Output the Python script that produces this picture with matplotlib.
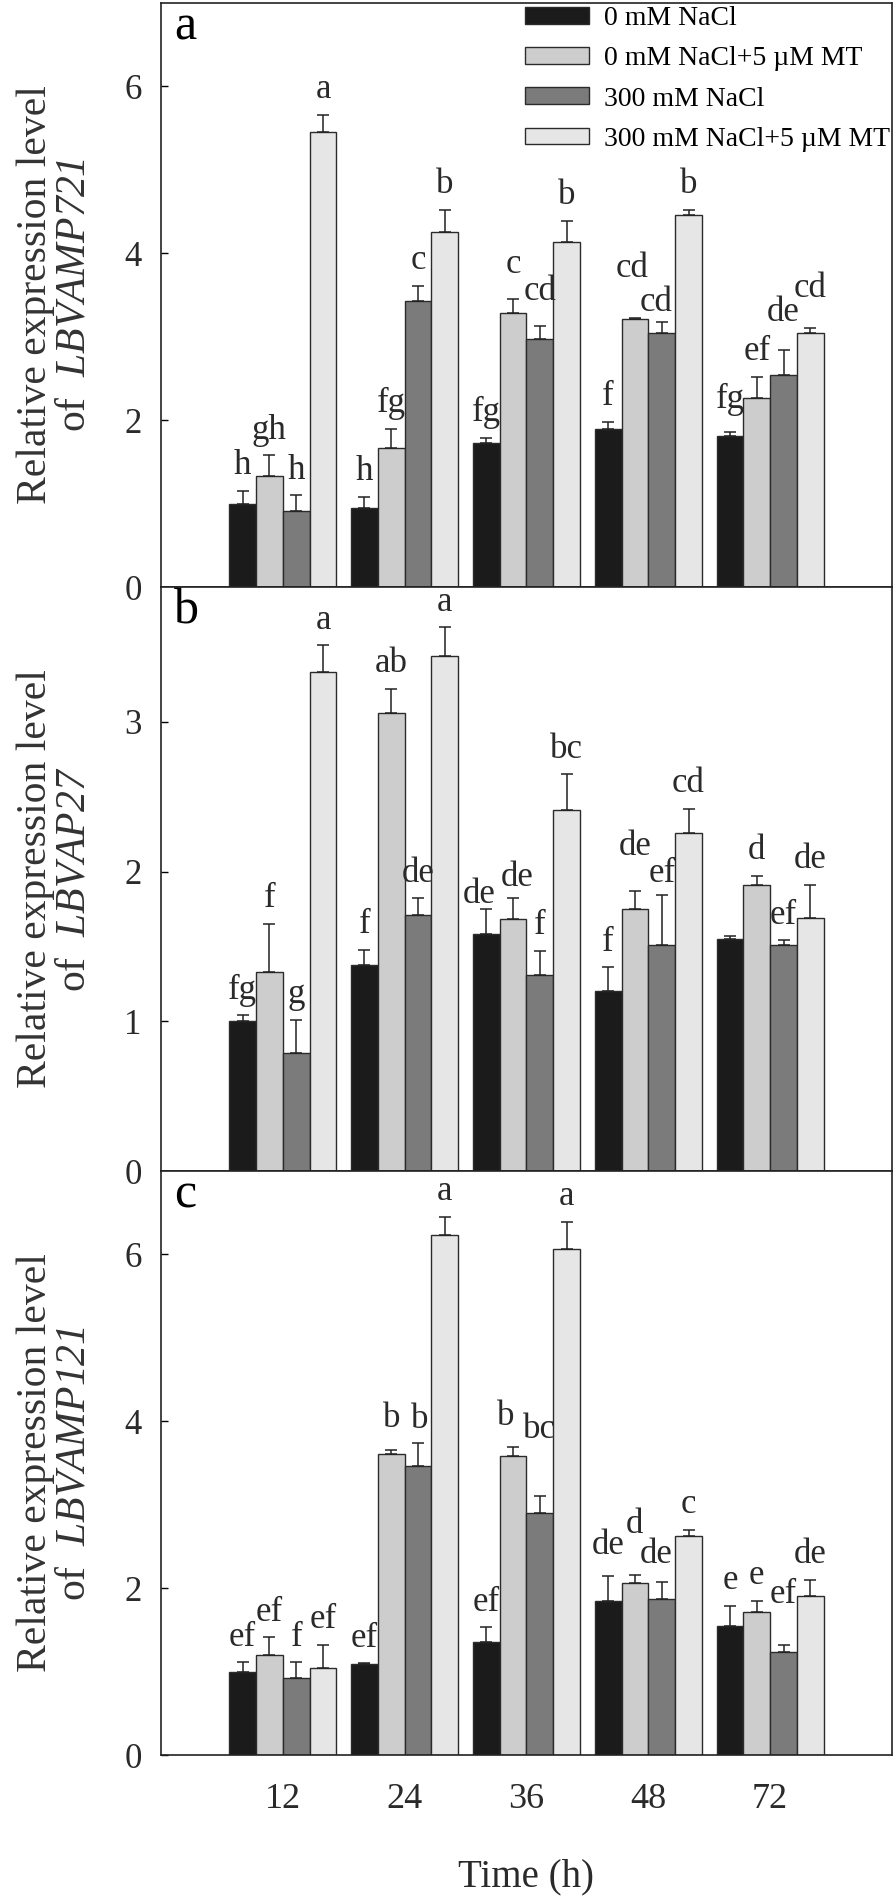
import numpy as np
import matplotlib
matplotlib.use('Agg')
import matplotlib.pyplot as plt

plt.rcParams['font.family'] = ['Liberation Serif', 'DejaVu Serif']
plt.rcParams['mathtext.fontset'] = 'custom'
# gene names are fully italic, digits included
plt.rcParams['mathtext.rm'] = 'Liberation Serif:italic'
plt.rcParams['mathtext.it'] = 'Liberation Serif:italic'

times = ['12', '24', '36', '48', '72']
treatments = ['0 mM NaCl', '0 mM NaCl+5 µM MT', '300 mM NaCl', '300 mM NaCl+5 µM MT']
colors = ['#1b1b1b', '#cdcdcd', '#7b7b7b', '#e6e6e6']

# panel a  LBVAMP721  (rows = treatments, cols = time)
a_mean = [[0.99, 0.95, 1.73, 1.89, 1.81],
          [1.33, 1.67, 3.29, 3.21, 2.26],
          [0.91, 3.43, 2.97, 3.05, 2.54],
          [5.45, 4.25, 4.13, 4.46, 3.05]]
a_err = [[0.16, 0.13, 0.06, 0.09, 0.05],
         [0.25, 0.23, 0.16, 0.02, 0.26],
         [0.19, 0.18, 0.16, 0.13, 0.30],
         [0.21, 0.27, 0.26, 0.06, 0.06]]
a_let = [['h', 'h', 'fg', 'f', 'fg'],
         ['gh', 'fg', 'c', 'cd', 'ef'],
         ['h', 'c', 'cd', 'cd', 'de'],
         ['a', 'b', 'b', 'b', 'cd']]

# panel b  LBVAP27
b_mean = [[1.00, 1.375, 1.58, 1.20, 1.55],
          [1.33, 3.06, 1.68, 1.75, 1.91],
          [0.79, 1.71, 1.31, 1.51, 1.51],
          [3.33, 3.44, 2.41, 2.26, 1.69]]
b_err = [[0.04, 0.10, 0.17, 0.16, 0.02],
         [0.32, 0.16, 0.14, 0.12, 0.06],
         [0.22, 0.11, 0.16, 0.33, 0.03],
         [0.18, 0.19, 0.24, 0.16, 0.22]]
b_let = [['fg', 'f', 'de', 'f', ''],
         ['f', 'ab', 'de', 'de', 'd'],
         ['g', 'de', 'f', 'ef', 'ef'],
         ['a', 'a', 'bc', 'cd', 'de']]

# panel c  LBVAMP121
c_mean = [[1.00, 1.09, 1.36, 1.85, 1.55],
          [1.20, 3.61, 3.59, 2.06, 1.71],
          [0.92, 3.47, 2.90, 1.87, 1.24],
          [1.04, 6.23, 6.07, 2.62, 1.91]]
c_err = [[0.11, 0.01, 0.17, 0.29, 0.24],
         [0.21, 0.05, 0.10, 0.10, 0.14],
         [0.19, 0.27, 0.20, 0.20, 0.08],
         [0.28, 0.22, 0.32, 0.08, 0.19]]
c_let = [['ef', 'ef', 'ef', 'de', 'e'],
         ['ef', 'b', 'b', 'd', 'e'],
         ['f', 'b', 'bc', 'de', 'ef'],
         ['ef', 'a', 'a', 'c', 'de']]

# letter nudges (panel, treatment, time) -> (dx, dy) in points
nudge = {('a', 1, 2): (0, 19), ('a', 2, 2): (0, 19),
         ('a', 1, 3): (-2, 29), ('a', 2, 3): (-4, 8),
         ('a', 0, 4): (0, 17), ('a', 2, 4): (0, 21), ('a', 3, 4): (0, 22),
         ('b', 0, 2): (-5, 4), ('b', 1, 2): (3, 9),
         ('b', 1, 3): (0, 26), ('b', 2, 3): (0, 10),
         ('c', 1, 1): (0, 16), ('c', 2, 1): (1, 11),
         ('c', 1, 2): (-5, 16), ('c', 2, 2): (0, 42),
         ('c', 0, 3): (0, 16), ('c', 1, 3): (0, 30), ('c', 2, 3): (-4, 14),
         ('c', 2, 4): (0, 30)}

panels = [('a', 'LBVAMP721', a_mean, a_err, a_let, 7.0, [0, 2, 4, 6]),
          ('b', 'LBVAP27', b_mean, b_err, b_let, 3.9, [0, 1, 2, 3]),
          ('c', 'LBVAMP121', c_mean, c_err, c_let, 7.0, [0, 2, 4, 6])]

fig = plt.figure(figsize=(8.96, 19.01), dpi=100)
left, width, h = 0.1797, 0.8158, 0.3072
bottoms = [0.0768 + 2 * h, 0.0768 + h, 0.0768]

x = np.arange(len(times))
bw = 0.22
txtcol = '#2a2a2a'

for (tag, gene, mean, err, let, ymax, yt), bot in zip(panels, bottoms):
    ax = fig.add_axes([left, bot, width, h])
    for i in range(4):
        xi = x + (i - 1.5) * bw
        m = np.array(mean[i])
        e = np.array(err[i])
        ax.bar(xi, m, bw, color=colors[i], edgecolor='#2b2b2b', linewidth=1.0,
               label=treatments[i], zorder=2)
        ax.errorbar(xi, m, yerr=[np.zeros_like(e), e], fmt='none', ecolor='#222222',
                    elinewidth=1.1, capsize=4.5, capthick=1.1, zorder=3)
        for j, (xx, top, s) in enumerate(zip(xi, m + e, let[i])):
            off = nudge.get((tag, i, j), (0, 12))
            ax.annotate(s, (xx, top), xytext=off, textcoords='offset points',
                        ha='center', va='baseline', fontsize=25, color=txtcol)
    ax.set_xlim(-1, 5)
    ax.set_ylim(0, ymax)
    ax.set_yticks(yt)
    ax.tick_params(axis='y', direction='in', length=5, width=1, labelsize=25,
                   pad=14, labelcolor=txtcol)
    ax.set_xticks(x)
    if tag == 'c':
        ax.set_xticklabels(times)
        ax.tick_params(axis='x', length=0, labelsize=26, pad=20, labelcolor=txtcol)
    else:
        ax.set_xticklabels([])
        ax.tick_params(axis='x', length=0)
    for sp in ax.spines.values():
        sp.set_linewidth(1.2)
        sp.set_color('#222222')
    ax.text(0.018, 0.937, tag, transform=ax.transAxes, fontsize=36,
            va='baseline', ha='left', color='black')
    ax.set_ylabel('Relative expression level\nof  $' + gene + '$',
                  fontsize=30, color='#333333', linespacing=1.0)
    ax.yaxis.set_label_coords(-0.092, 0.5)
    if tag == 'a':
        ax.legend(loc='upper left', bbox_to_anchor=(0.498, 0.995), frameon=False,
                  fontsize=20, handlelength=2.3, handleheight=0.55,
                  handletextpad=0.55, labelspacing=0.55, borderpad=0,
                  borderaxespad=0)

fig.text(0.5876, 0.0126, 'Time (h)', ha='center', va='center', fontsize=28,
         color=txtcol)

fig.savefig('out.png', dpi=100)
